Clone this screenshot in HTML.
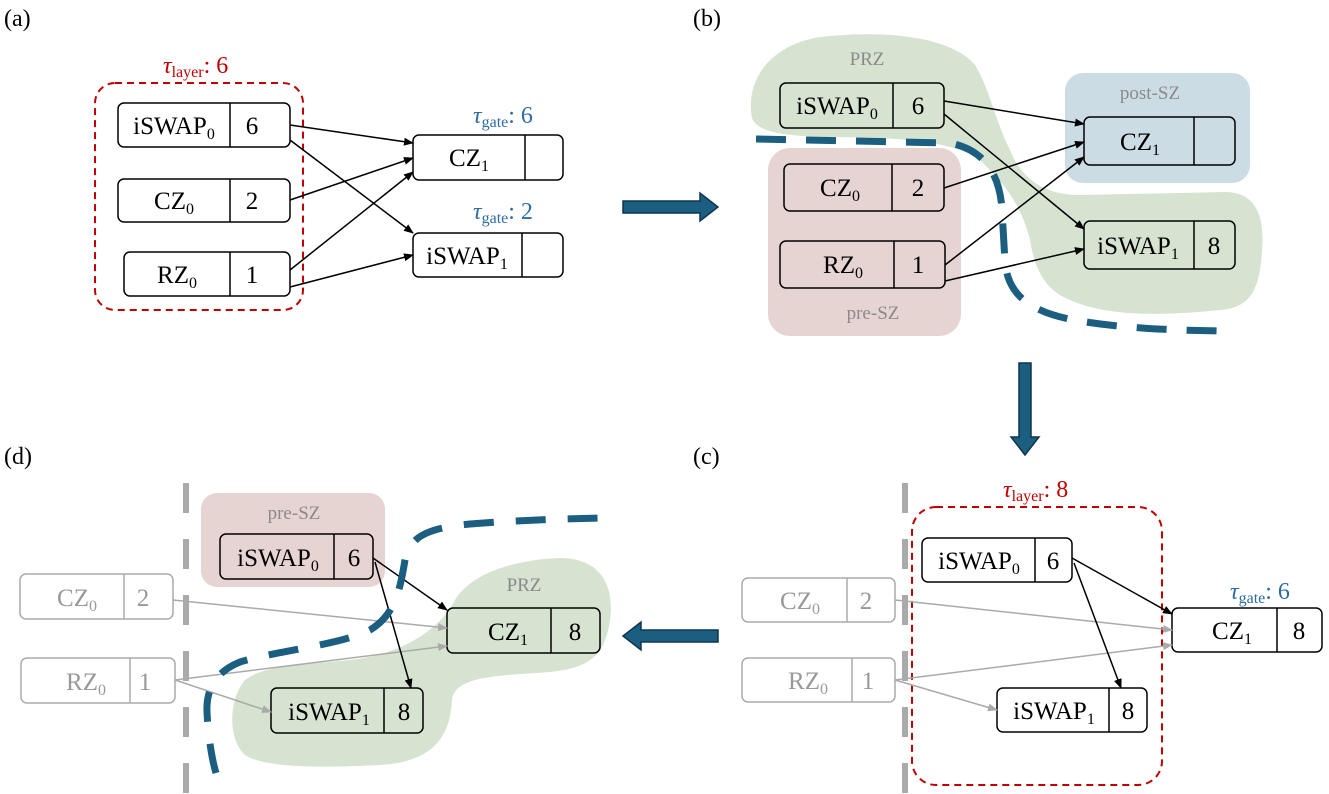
<!DOCTYPE html>
<html><head><meta charset="utf-8"><style>
html,body{margin:0;padding:0;background:#fff}
svg{display:block}
text{font-family:"Liberation Serif",serif}
.t{font-size:25px;text-anchor:middle}
.g{fill:#999}
.lbl{font-size:24px}
.zone{font-size:19px;fill:#8a8a8a;text-anchor:middle}
.tau{font-size:24px}
</style></head><body>
<svg width="1329" height="794" viewBox="0 0 1329 794" xmlns="http://www.w3.org/2000/svg">
<defs>
<marker id="ab" markerWidth="10" markerHeight="8" refX="9" refY="4" orient="auto" markerUnits="userSpaceOnUse"><path d="M0,0 L10,4 L0,8 z" fill="#000"/></marker>
<marker id="ag" markerWidth="10" markerHeight="8" refX="9" refY="4" orient="auto" markerUnits="userSpaceOnUse"><path d="M0,0 L10,4 L0,8 z" fill="#aaa"/></marker>
</defs>

<text x="4" y="26" class="lbl">(a)</text>
<text x="693" y="26" class="lbl">(b)</text>
<text x="4" y="464" class="lbl">(d)</text>
<text x="693" y="464" class="lbl">(c)</text>

<!-- ===== (a) ===== -->
<rect x="95" y="83" width="208" height="227" rx="20" fill="none" stroke="#c00000" stroke-width="2" stroke-dasharray="7,5"/>
<text x="163" y="73" class="tau" fill="#c00000"><tspan font-style="italic">τ</tspan><tspan font-size="16" dy="4">layer</tspan><tspan dy="-4">: 6</tspan></text>
<text x="473" y="123" class="tau" fill="#2e6ca4"><tspan font-style="italic">τ</tspan><tspan font-size="16" dy="4">gate</tspan><tspan dy="-4">: 6</tspan></text>
<text x="473" y="219" class="tau" fill="#2e6ca4"><tspan font-style="italic">τ</tspan><tspan font-size="16" dy="4">gate</tspan><tspan dy="-4">: 2</tspan></text>

<g stroke="#000" stroke-width="1.5" fill="#fff">
<rect x="118" y="103" width="172" height="44" rx="6"/><line x1="230" y1="103" x2="230" y2="147"/>
<rect x="118" y="179" width="172" height="43" rx="6"/><line x1="230" y1="179" x2="230" y2="222"/>
<rect x="124" y="252" width="166" height="44" rx="6"/><line x1="230" y1="252" x2="230" y2="296"/>
<rect x="413" y="135" width="150" height="45" rx="6"/><line x1="525" y1="135" x2="525" y2="180"/>
<rect x="413" y="233" width="150" height="44" rx="6"/><line x1="522" y1="233" x2="522" y2="277"/>
</g>
<text x="174" y="134" class="t">iSWAP<tspan font-size="16" dy="5">0</tspan></text><text x="252" y="134" class="t">6</text>
<text x="174" y="209" class="t">CZ<tspan font-size="16" dy="5">0</tspan></text><text x="252" y="209" class="t">2</text>
<text x="177" y="283" class="t">RZ<tspan font-size="16" dy="5">0</tspan></text><text x="252" y="283" class="t">1</text>
<text x="469" y="166" class="t">CZ<tspan font-size="16" dy="5">1</tspan></text>
<text x="467" y="264" class="t">iSWAP<tspan font-size="16" dy="5">1</tspan></text>
<g stroke="#000" stroke-width="1.5" marker-end="url(#ab)" fill="none">
<line x1="290" y1="125" x2="413" y2="143"/>
<line x1="290" y1="140" x2="413" y2="233"/>
<line x1="290" y1="200" x2="413" y2="158"/>
<line x1="290" y1="270" x2="413" y2="172"/>
<line x1="290" y1="287" x2="413" y2="255"/>
</g>

<g fill="#1b5e80" stroke="#0f3550" stroke-width="1.5">
<path d="M623,201 L700,201 L700,193 L718,207 L700,221 L700,213 L623,213 z"/>
<path d="M1019,363 L1031,363 L1031,437 L1039,437 L1025,455 L1011,437 L1019,437 z"/>
<path d="M718,630 L641,630 L641,622 L623,636 L641,650 L641,642 L718,642 z"/>
</g>

<!-- ===== (b) ===== -->
<path d="M752,118 C745,80 770,45 820,37 C880,30 950,35 975,65 C990,90 995,120 1010,150 C1020,175 1040,195 1080,195 L1225,192 C1255,192 1265,215 1262,250 C1260,290 1250,308 1220,310 C1170,315 1110,318 1070,300 C1045,290 1035,270 1030,240 C1020,200 1000,180 980,160 C960,145 920,140 880,138 C820,136 760,140 752,118 z" fill="#d6e3d0"/>
<rect x="1065" y="73" width="185" height="110" rx="18" fill="#ccdce4"/>
<rect x="768" y="148" width="193" height="188" rx="22" fill="#e6d4d2"/>
<text x="867" y="65" class="zone">PRZ</text>
<text x="1150" y="99" class="zone">post-SZ</text>
<text x="873" y="319" class="zone">pre-SZ</text>
<g stroke="#000" stroke-width="1.5">
<rect x="780" y="83" width="164" height="45" rx="6" fill="#d6e3d0"/><line x1="893" y1="83" x2="893" y2="128"/>
<rect x="784" y="164" width="160" height="47" rx="6" fill="#e6d4d2"/><line x1="892" y1="164" x2="892" y2="211"/>
<rect x="780" y="241" width="165" height="47" rx="6" fill="#e6d4d2"/><line x1="894" y1="241" x2="894" y2="288"/>
<rect x="1084" y="117" width="151" height="48" rx="6" fill="#ccdce4"/><line x1="1194" y1="117" x2="1194" y2="165"/>
<rect x="1084" y="221" width="151" height="48" rx="6" fill="#d6e3d0"/><line x1="1194" y1="221" x2="1194" y2="269"/>
</g>
<text x="837" y="114" class="t">iSWAP<tspan font-size="16" dy="5">0</tspan></text><text x="918" y="114" class="t">6</text>
<text x="840" y="196" class="t">CZ<tspan font-size="16" dy="5">0</tspan></text><text x="918" y="196" class="t">2</text>
<text x="843" y="273" class="t">RZ<tspan font-size="16" dy="5">0</tspan></text><text x="918" y="273" class="t">1</text>
<text x="1140" y="150" class="t">CZ<tspan font-size="16" dy="5">1</tspan></text>
<text x="1138" y="254" class="t">iSWAP<tspan font-size="16" dy="5">1</tspan></text><text x="1214" y="254" class="t">8</text>
<g stroke="#000" stroke-width="1.5" marker-end="url(#ab)" fill="none">
<line x1="944" y1="101" x2="1084" y2="124"/>
<line x1="944" y1="114" x2="1084" y2="229"/>
<line x1="944" y1="188" x2="1084" y2="142"/>
<line x1="945" y1="265" x2="1084" y2="157"/>
<line x1="945" y1="281" x2="1084" y2="249"/>
</g>
<path d="M756,139 L950,143 C985,150 1000,175 1002,210 L1005,262 C1008,295 1030,313 1080,321 C1110,326 1150,330 1221,331" fill="none" stroke="#1b5e80" stroke-width="7" stroke-dasharray="30,20"/>

<!-- ===== (d) ===== -->
<line x1="186" y1="483" x2="186" y2="794" stroke="#aaa" stroke-width="6" stroke-dasharray="30,26"/>
<path d="M455,600 C470,575 510,560 560,558 C600,558 615,585 610,620 C605,655 590,668 550,672 C500,676 455,675 452,700 C450,740 430,762 380,765 C320,768 265,768 245,755 C228,740 228,700 245,680 C265,665 300,665 350,660 C400,655 440,630 455,600 z" fill="#d6e3d0"/>
<rect x="201" y="493" width="184" height="94" rx="16" fill="#e6d4d2"/>
<text x="524" y="591" class="zone">PRZ</text>
<text x="294" y="519" class="zone">pre-SZ</text>
<g stroke="#aaa" stroke-width="1.5" fill="#fff">
<rect x="20" y="574" width="153" height="45" rx="6"/><line x1="124" y1="574" x2="124" y2="619"/>
<rect x="21" y="658" width="154" height="45" rx="6"/><line x1="130" y1="658" x2="130" y2="703"/>
</g>
<text x="77" y="606" class="t g">CZ<tspan font-size="16" dy="5">0</tspan></text><text x="143" y="606" class="t g">2</text>
<text x="86" y="690" class="t g">RZ<tspan font-size="16" dy="5">0</tspan></text><text x="145" y="690" class="t g">1</text>
<g stroke="#000" stroke-width="1.5" fill="#d6e3d0">
<rect x="220" y="534" width="153" height="45" rx="6" fill="#e6d4d2"/><line x1="334" y1="534" x2="334" y2="579"/>
<rect x="447" y="608" width="153" height="45" rx="6"/><line x1="551" y1="608" x2="551" y2="653"/>
<rect x="271" y="688" width="152" height="45" rx="6"/><line x1="384" y1="688" x2="384" y2="733"/>
</g>
<text x="278" y="566" class="t">iSWAP<tspan font-size="16" dy="5">0</tspan></text><text x="354" y="566" class="t">6</text>
<text x="508" y="640" class="t">CZ<tspan font-size="16" dy="5">1</tspan></text><text x="575" y="640" class="t">8</text>
<text x="329" y="720" class="t">iSWAP<tspan font-size="16" dy="5">1</tspan></text><text x="404" y="720" class="t">8</text>
<g stroke="#aaa" stroke-width="1.5" marker-end="url(#ag)" fill="none">
<line x1="173" y1="600" x2="447" y2="628"/>
<line x1="175" y1="680" x2="447" y2="646"/>
<line x1="175" y1="680" x2="271" y2="712"/>
</g>
<g stroke="#000" stroke-width="1.5" marker-end="url(#ab)" fill="none">
<line x1="373" y1="558" x2="447" y2="610"/>
<line x1="375" y1="562" x2="411" y2="688"/>
</g>
<path d="M216,773 C212,760 208,735 207,712 C206,690 215,672 240,662 C280,650 340,645 370,630 C395,615 400,590 405,560 C410,535 430,528 470,524 C520,520 560,519 605,518" fill="none" stroke="#1b5e80" stroke-width="7" stroke-dasharray="30,22"/>

<!-- ===== (c) ===== -->
<line x1="905" y1="483" x2="905" y2="794" stroke="#aaa" stroke-width="6" stroke-dasharray="30,26"/>
<rect x="912" y="507" width="250" height="278" rx="24" fill="none" stroke="#c00000" stroke-width="2" stroke-dasharray="7,5"/>
<text x="1003" y="497" class="tau" fill="#c00000"><tspan font-style="italic">τ</tspan><tspan font-size="16" dy="4">layer</tspan><tspan dy="-4">: 8</tspan></text>
<text x="1230" y="599" class="tau" fill="#2e6ca4"><tspan font-style="italic">τ</tspan><tspan font-size="16" dy="4">gate</tspan><tspan dy="-4">: 6</tspan></text>
<g stroke="#aaa" stroke-width="1.5" fill="#fff">
<rect x="742" y="578" width="153" height="44" rx="6"/><line x1="847" y1="578" x2="847" y2="622"/>
<rect x="742" y="658" width="153" height="44" rx="6"/><line x1="852" y1="658" x2="852" y2="702"/>
</g>
<text x="800" y="609" class="t g">CZ<tspan font-size="16" dy="5">0</tspan></text><text x="866" y="609" class="t g">2</text>
<text x="808" y="689" class="t g">RZ<tspan font-size="16" dy="5">0</tspan></text><text x="868" y="689" class="t g">1</text>
<g stroke="#000" stroke-width="1.5" fill="#fff">
<rect x="922" y="538" width="150" height="44" rx="6"/><line x1="1035" y1="538" x2="1035" y2="582"/>
<rect x="1172" y="608" width="150" height="44" rx="6"/><line x1="1277" y1="608" x2="1277" y2="652"/>
<rect x="997" y="688" width="150" height="44" rx="6"/><line x1="1109" y1="688" x2="1109" y2="732"/>
</g>
<text x="979" y="569" class="t">iSWAP<tspan font-size="16" dy="5">0</tspan></text><text x="1053" y="569" class="t">6</text>
<text x="1232" y="639" class="t">CZ<tspan font-size="16" dy="5">1</tspan></text><text x="1299" y="639" class="t">8</text>
<text x="1054" y="719" class="t">iSWAP<tspan font-size="16" dy="5">1</tspan></text><text x="1128" y="719" class="t">8</text>
<g stroke="#aaa" stroke-width="1.5" marker-end="url(#ag)" fill="none">
<line x1="895" y1="600" x2="1172" y2="630"/>
<line x1="895" y1="680" x2="1172" y2="645"/>
<line x1="895" y1="680" x2="997" y2="710"/>
</g>
<g stroke="#000" stroke-width="1.5" marker-end="url(#ab)" fill="none">
<line x1="1072" y1="558" x2="1172" y2="614"/>
<line x1="1074" y1="563" x2="1121" y2="688"/>
</g>
</svg>
</body></html>
